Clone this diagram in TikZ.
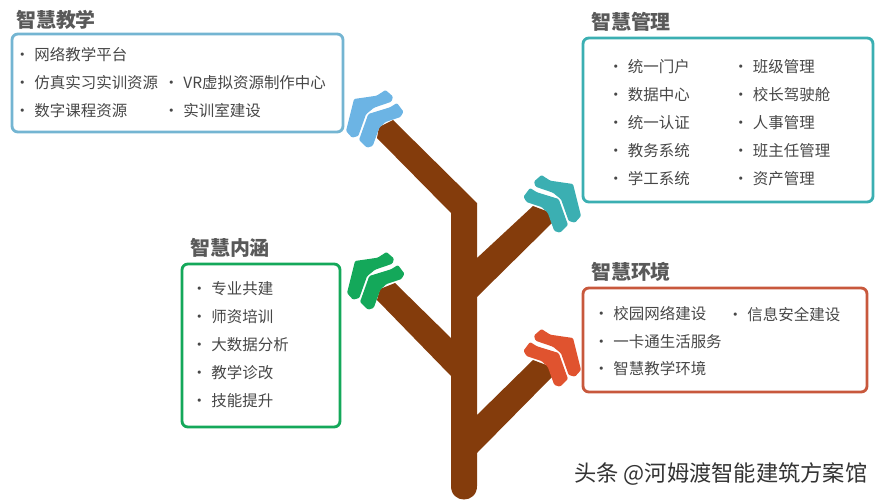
\documentclass[tikz,border=0pt]{standalone}
\usepackage{fontspec}
\setmainfont{Noto Sans CJK SC}
\definecolor{brownc}{HTML}{843C0C}
\definecolor{bluebox}{HTML}{74B5D2}
\definecolor{bluechev}{HTML}{6CB4E4}
\definecolor{tealc}{HTML}{3BAFB2}
\definecolor{greenc}{HTML}{14A85A}
\definecolor{redbox}{HTML}{C8583C}
\definecolor{redchev}{HTML}{E0532F}
\tikzset{
  panel/.style={draw=#1, line width=2.4pt, rounded corners=5pt, fill=white},
  heading/.style={anchor=west, inner sep=0pt, font=\fontsize{17}{17}\selectfont\bfseries, text=black!65},
  itemtext/.style={anchor=west, inner sep=0pt, font=\fontsize{13.2}{13.2}\selectfont, text=black!72},
  chevron/.pic={
    \fill[rounded corners=1pt] (0.5,-39) -- (8,-32.5) -- (6.5,-27.3) -- (-11,-21.3) -- (-19,-14.7) -- (-26.7,7) -- (-33,8.7) -- (-39,2) -- (-31,-30) -- (-8.3,-33.3) -- cycle;
    \fill[rounded corners=1pt] (12,-26) -- (18.5,-17.3) -- (15.5,-12) -- (0.5,-7) -- (-5.7,-1.3) -- (-12.3,17) -- (-18,18.7) -- (-26,11) -- (-16.7,-15) -- (5,-21.7) -- cycle;
  }
}
\newcommand{\itm}[1]{\makebox[13pt][l]{\hspace{-4pt}\textbullet}#1}
\begin{document}
\begin{tikzpicture}[x=0.03cm,y=-0.03cm]
  \useasboundingbox (0,0) rectangle (884,500);
  % tree
  \fill[brownc] (393,120) -- (379,127) -- (377,138) -- (451,213) -- (451,338) -- (395,283) -- (380,289) -- (377,300) -- (451,376) -- (451,486)
    .. controls (451,504) and (477,504) .. (477,486) -- (477,453) -- (552,377) -- (549,366) -- (533,360) -- (477,415) -- (477,297) -- (552,223) -- (549,212) -- (533,206) -- (477,258) -- (477,203) -- cycle;
  % chevrons
  \pic[fill=bluechev] at (385,129) {chevron};
  \pic[fill=greenc] at (386,291) {chevron};
  \pic[fill=tealc, xscale=-1] at (542,214) {chevron};
  \pic[fill=redchev, xscale=-1] at (542,368) {chevron};
  % panels
  \draw[panel=bluebox] (12,34) rectangle (343,132);
  \draw[panel=tealc] (583,38) rectangle (873,202);
  \draw[panel=greenc] (182,264) rectangle (340,427);
  \draw[panel=redbox] (583,288) rectangle (867,392);
  % headings
  \node[heading] (teach) at (16,20) {智慧教学};
  \node[heading] (manage) at (591,22) {智慧管理};
  \node[heading] (inner) at (190,248) {智慧内涵};
  \node[heading] (envir) at (591,272) {智慧环境};
  % items
  \foreach \n/\x/\y/\t in {a1/19/54.5/网络教学平台, a2/19/82.5/仿真实习实训资源, a3/19/110.5/数字课程资源, a4/168/82.5/VR虚拟资源制作中心, a5/168/110.5/实训室建设,
    b1/612.5/66.5/统一门户, b2/612.5/94.5/数据中心, b3/612.5/122.5/统一认证, b4/612.5/150.5/教务系统, b5/612.5/178.5/学工系统,
    b6/737.5/66.5/班级管理, b7/737.5/94.5/校长驾驶舱, b8/737.5/122.5/人事管理, b9/737.5/150.5/班主任管理, b10/737.5/178.5/资产管理,
    c1/196/288.5/专业共建, c2/196/316.5/师资培训, c3/196/344.5/大数据分析, c4/196/372.5/教学诊改, c5/196/400.5/技能提升,
    d1/598/313.5/校园网络建设, d2/598/341.5/一卡通生活服务, d3/598/368.5/智慧教学环境, d4/732/314.5/信息安全建设}
    \node[itemtext] (\n) at (\x,\y) {\itm{\t}};
  % watermark
  \node[anchor=west, inner sep=0pt, font=\fontsize{19}{19}\selectfont, text=black!80] (mark) at (574,474) {头条 @河姆渡智能建筑方案馆};
\end{tikzpicture}
\end{document}
